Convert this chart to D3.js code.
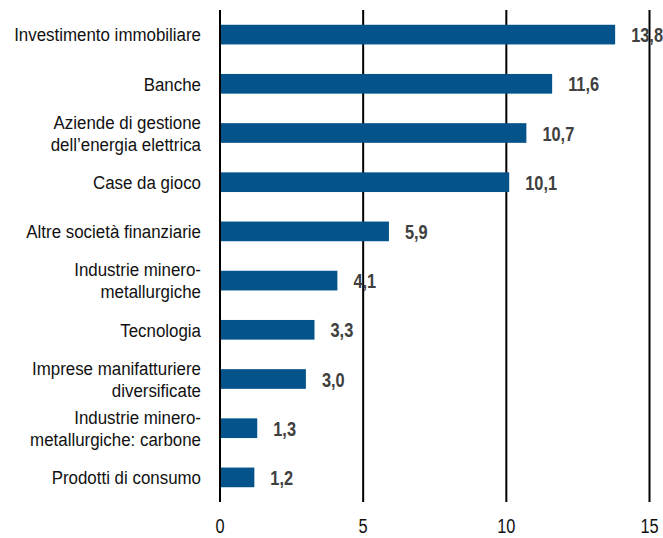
<!DOCTYPE html>
<head>
  <meta charset="utf-8">
  <script src="https://d3js.org/d3.v7.min.js"></script>
  <style>
    body { margin:0; background:#fff; }
    text { font-family: "Liberation Sans", Arial, sans-serif; }
  </style>
</head>
<body>
  <svg width="663" height="538"></svg>
  <script>
    var categories = [
      ["Investimento immobiliare"],
      ["Banche"],
      ["Aziende di gestione", "dell\u2019energia elettrica"],
      ["Case da gioco"],
      ["Altre società finanziarie"],
      ["Industrie minero-", "metallurgiche"],
      ["Tecnologia"],
      ["Imprese manifatturiere", "diversificate"],
      ["Industrie minero-", "metallurgiche: carbone"],
      ["Prodotti di consumo"]
    ];
    var values = [13.8, 11.6, 10.7, 10.1, 5.9, 4.1, 3.3, 3.0, 1.3, 1.2];
    var ticks = [0, 5, 10, 15];

    var svg = d3.select("svg");
    var x = d3.scaleLinear().domain([0, 15]).range([220, 649.5]);
    var y = d3.scaleBand()
      .domain(d3.range(categories.length))
      .range([10, 502])
      .paddingInner(0.6)
      .paddingOuter(0.3);

    // vertical grid lines
    svg.selectAll(".grid")
      .data(ticks)
      .enter().append("line")
      .attr("x1", function(d) { return x(d); })
      .attr("x2", function(d) { return x(d); })
      .attr("y1", 10)
      .attr("y2", 502)
      .attr("stroke", "#000")
      .attr("stroke-width", 2);

    // tick labels (narrow font faked with a horizontal squeeze)
    svg.selectAll(".tick")
      .data(ticks)
      .enter().append("text")
      .attr("transform", function(d) { return "translate(" + x(d) + ",533) scale(0.78,1)"; })
      .attr("text-anchor", "middle")
      .attr("font-size", 21)
      .attr("fill", "#111")
      .text(function(d) { return d; });

    svg.selectAll(".bar")
      .data(values)
      .enter().append("rect")
      .attr("x", x(0) + 1)
      .attr("y", function(d, i) { return y(i); })
      .attr("width", function(d) { return x(d) - x(0) - 1; })
      .attr("height", y.bandwidth())
      .attr("fill", "#04538a");

    // value labels
    svg.selectAll(".val")
      .data(values)
      .enter().append("text")
      .attr("transform", function(d, i) {
        return "translate(" + (x(d) + 16) + "," + (y(i) + y.bandwidth() / 2) + ") scale(0.78,1)";
      })
      .attr("dy", "0.36em")
      .attr("font-size", 21)
      .attr("font-weight", "bold")
      .attr("fill", "#404040")
      .text(function(d) { return d.toFixed(1).replace(".", ","); });

    // category labels
    var lab = svg.selectAll(".cat")
      .data(categories)
      .enter().append("text")
      .attr("text-anchor", "end")
      .attr("font-size", 19)
      .attr("fill", "#111")
      .attr("transform", function(d, i) {
        return "translate(201," + (y(i) + y.bandwidth() / 2) + ") scale(0.89,1)";
      });

    lab.selectAll("tspan")
      .data(function(d) { return d; })
      .enter().append("tspan")
      .attr("x", 0)
      .attr("y", function(d, j, nodes) {
        var n = nodes.length;
        return (j - (n - 1) / 2) * 22;
      })
      .attr("dy", "0.36em")
      .text(function(d) { return d; });
  </script>
</body>
